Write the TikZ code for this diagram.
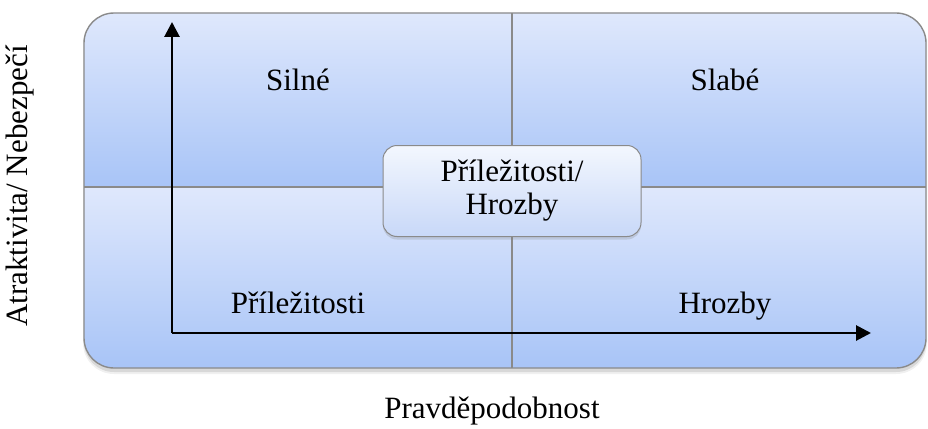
\documentclass[tikz,border=0pt]{standalone}
\usepackage{fontspec}
\setmainfont{Liberation Serif}
\usetikzlibrary{arrows.meta,shadows}
\definecolor{qtop}{HTML}{DFE8FC}
\definecolor{qbot}{HTML}{A8C4F7}
\definecolor{ctop}{HTML}{F3F7FE}
\definecolor{cbot}{HTML}{C8D8F8}
\definecolor{edgegray}{HTML}{8A8A8A}
\begin{document}
\begin{tikzpicture}[x=1pt,y=-1pt,
  lbl/.style={font=\fontsize{31}{33}\selectfont, inner sep=0pt, anchor=base},
  axis/.style={line width=2.8pt, -{Triangle[length=15pt,width=15pt]}},
  cbox/.style={draw=edgegray, line width=1pt, rounded corners=14pt,
    top color=ctop, bottom color=cbot, minimum width=258pt, minimum height=91pt,
    align=center, inner sep=0pt, font=\fontsize{31}{33}\selectfont,
    drop shadow={shadow xshift=0pt, shadow yshift=-3pt, opacity=0.25}}]
\useasboundingbox (0,0) rectangle (928,428);
% soft shadow of the matrix
\fill[black, opacity=0.06, rounded corners=31pt] (83,14) rectangle (927,374);
\fill[black, opacity=0.10, rounded corners=30pt] (84,15) rectangle (926,372);
% quadrants
\begin{scope}
\clip[rounded corners=30pt] (84,13) rectangle (926,368);
\shade[top color=qtop, bottom color=qbot] (84,13) rectangle (926,187);
\shade[top color=qtop, bottom color=qbot] (84,187) rectangle (926,368);
\end{scope}
\draw[edgegray, line width=1.2pt] (512,13) -- (512,368);
\draw[edgegray, line width=1.2pt] (84,187) -- (926,187);
\draw[edgegray, line width=1.4pt, rounded corners=30pt] (84,13) rectangle (926,368);
% labels
\node[lbl] (silne) at (298,90) {Silné};
\node[lbl] (slabe) at (725,90) {Slabé};
\node[lbl] (prilez) at (298,313) {Příležitosti};
\node[lbl] (hrozby) at (725,313) {Hrozby};
% axes
\coordinate (o) at (172,333);
\coordinate (ytip) at (172,22);
\coordinate (xtip) at (871,333);
\draw[axis] (o) -- (ytip);
\draw[axis] (o) -- (xtip);
% centre box
\node[cbox] (centre) at (512,191) {Příležitosti/\\Hrozby};
% axis titles
\node[lbl, anchor=center] (xlab) at (492,411) {Pravděpodobnost};
\node[lbl, anchor=center, rotate=90] (ylab) at (20,186) {Atraktivita/ Nebezpečí};
\end{tikzpicture}
\end{document}
